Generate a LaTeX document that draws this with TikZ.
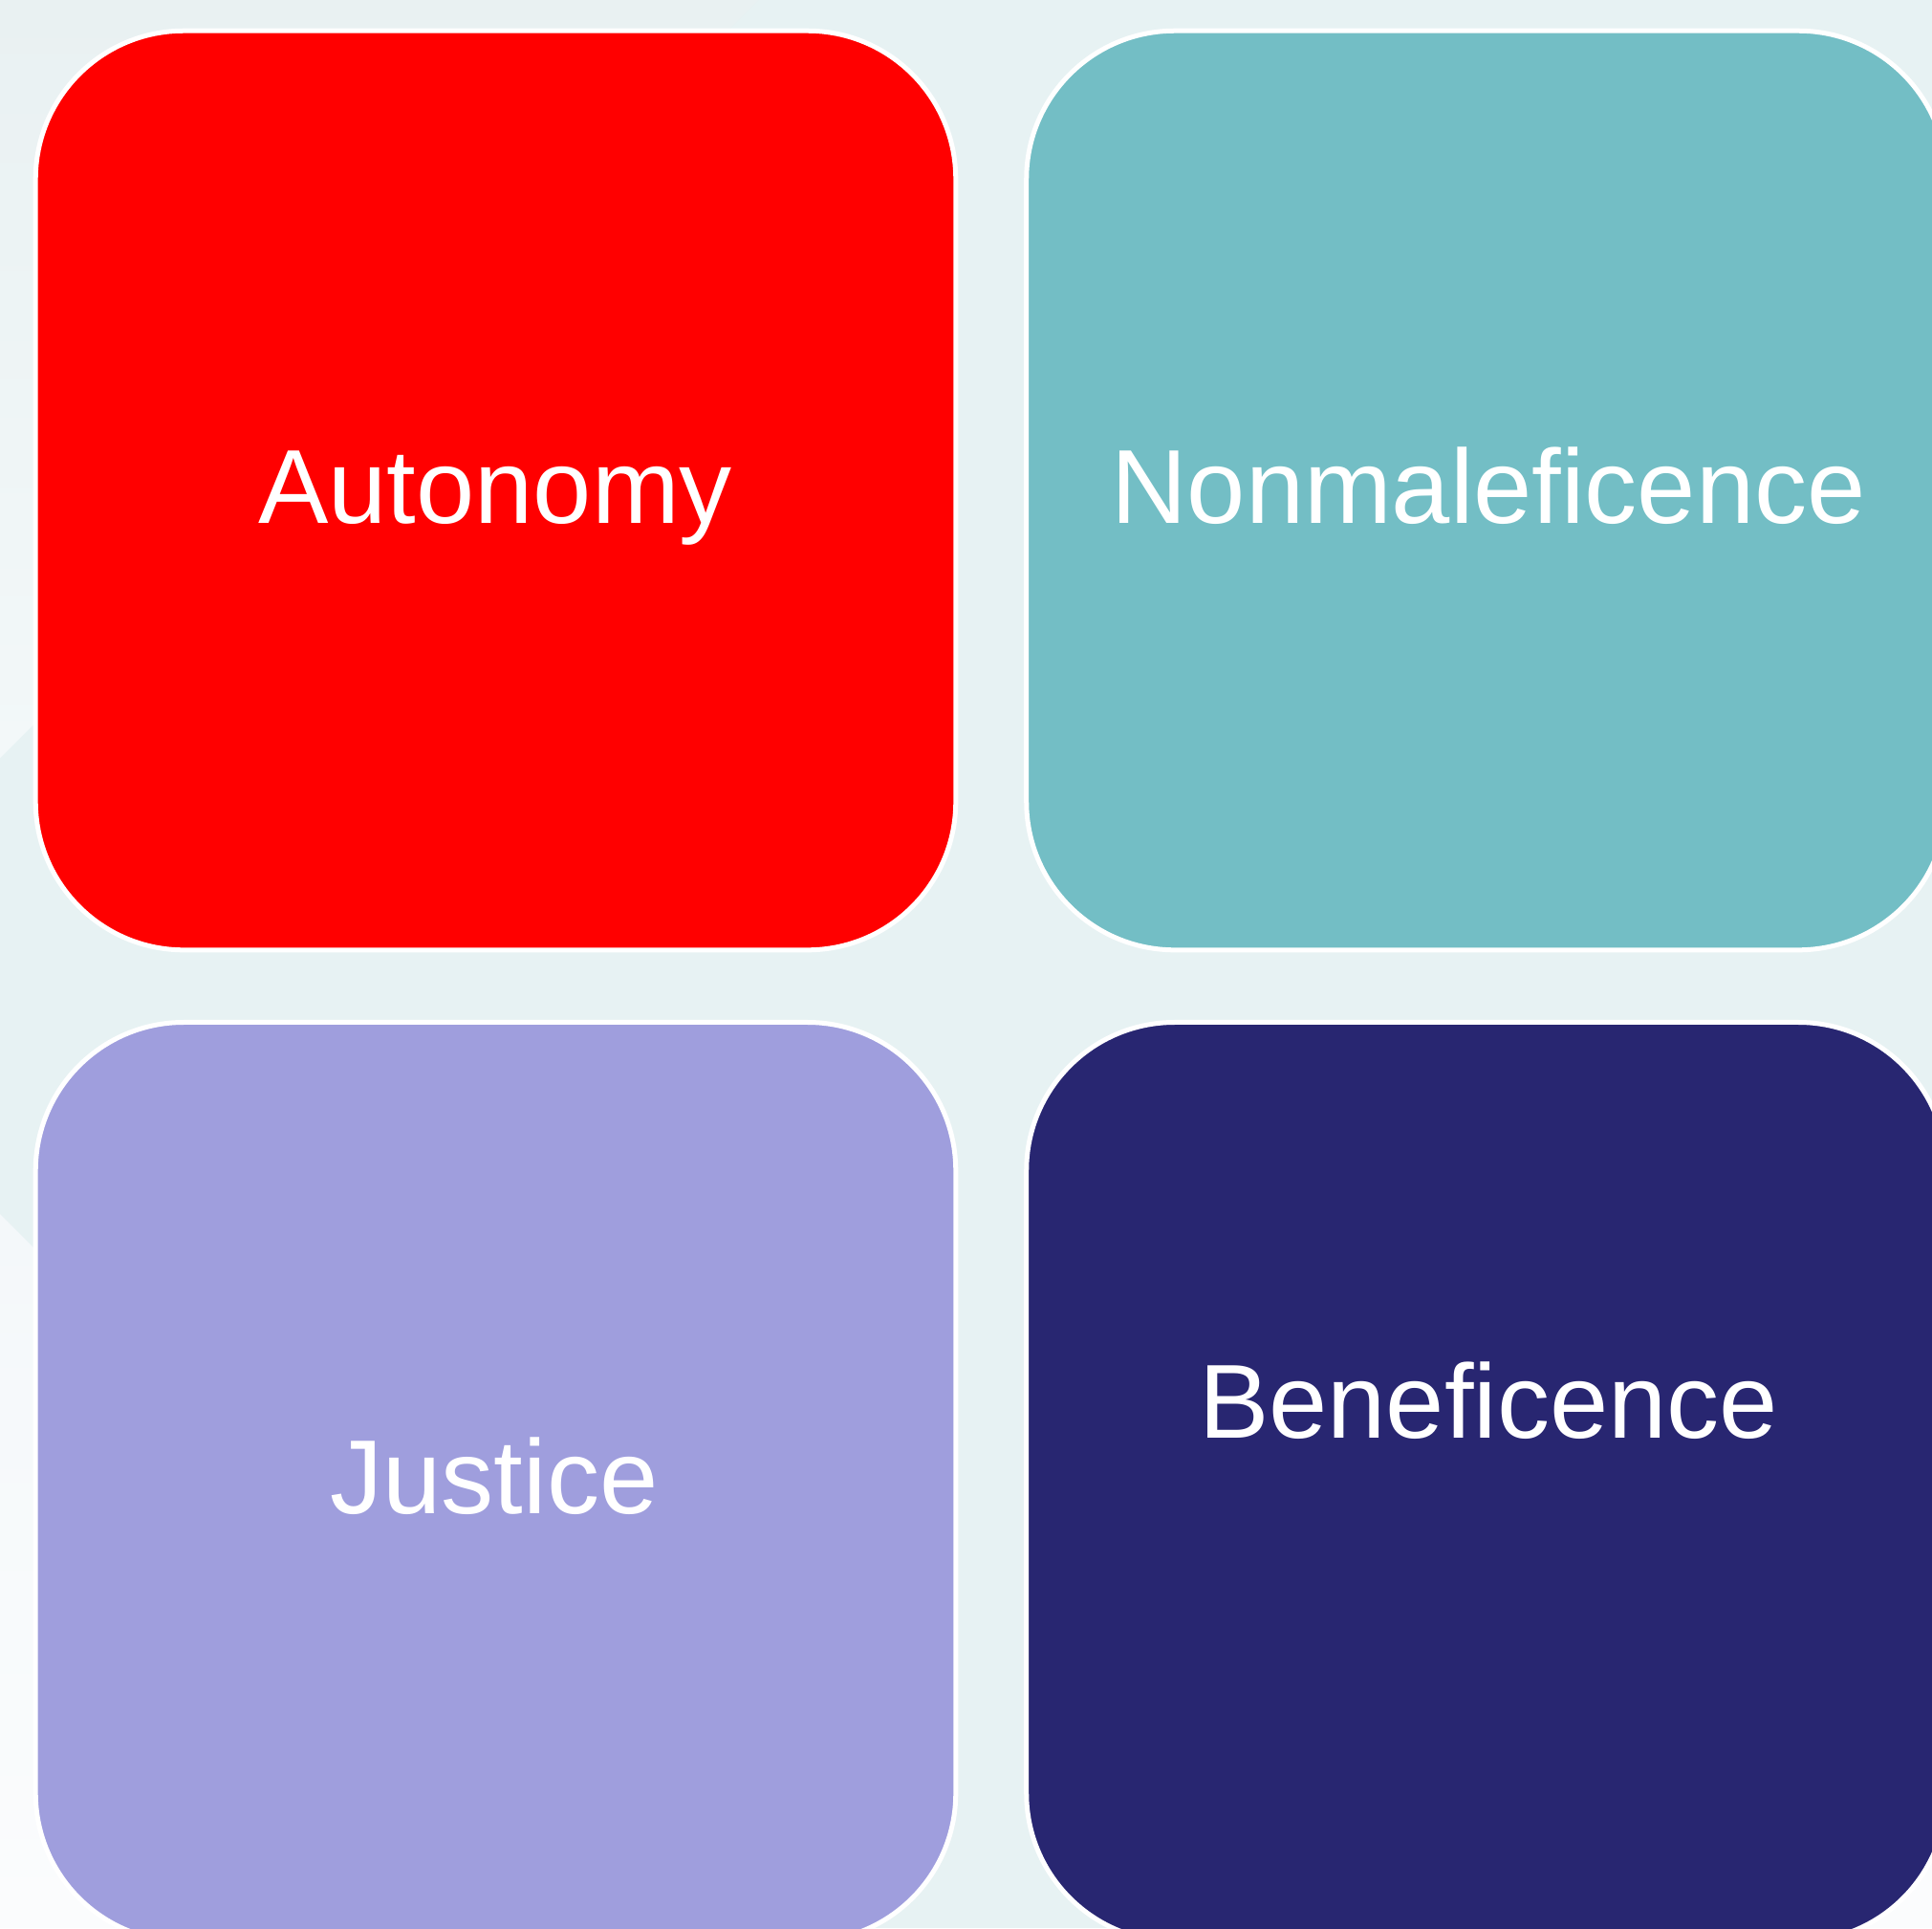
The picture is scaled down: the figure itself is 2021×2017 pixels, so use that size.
\documentclass[tikz,border=0pt]{standalone}
\usepackage{fontspec}
\setmainfont{Liberation Sans}
\definecolor{bgbase}{HTML}{E7F2F3}
\definecolor{bgtopA}{HTML}{E9F1F2}
\definecolor{bgtopB}{HTML}{F3F8F9}
\definecolor{bgbotA}{HTML}{F4F8FA}
\definecolor{bgbotB}{HTML}{FBFCFD}
\definecolor{autored}{HTML}{FF0000}
\definecolor{nonmal}{HTML}{73BEC5}
\definecolor{justc}{HTML}{9F9EDD}
\definecolor{benef}{HTML}{282671}
\begin{document}
\begin{tikzpicture}[x=0.01cm,y=-0.01cm,
  card/.style={rectangle, rounded corners=1.55cm, draw=white, line width=0.05cm,
    minimum width=9.62cm, minimum height=9.61cm, inner sep=0pt, outer sep=0pt},
  lbl/.style={text=white, anchor=base, inner sep=0pt,
    font=\fontsize{31.3}{37}\selectfont}]
\useasboundingbox (0,0) rectangle (2021,2017);
\clip (0,0) rectangle (2021,2017);
\fill[bgbase] (0,0) rectangle (2021,2017);
\shade[top color=bgtopA, bottom color=bgtopB] (0,0) -- (793,0) -- (0,793) -- cycle;
\shade[top color=bgbotA, bottom color=bgbotB] (0,1270) -- (747,2017) -- (0,2017) -- cycle;
\fill[bgbotB] (2021,1850) -- (2021,2017) -- (1854,2017) -- cycle;
\node[card, fill=autored] (A) at (518.5,513) {};
\node[card, fill=nonmal] (N) at (1555,513) {};
\node[card, fill=justc] (J) at (518.5,1550.25) {};
\node[card, fill=benef] (B) at (1555,1550.25) {};
\node[lbl] (tA) at (518,547) {Autonomy};
\node[lbl] (tN) at (1557,547) {Nonmaleficence};
\node[lbl] (tJ) at (517,1583) {Justice};
\node[lbl] (tB) at (1557,1504) {Beneficence};
\end{tikzpicture}
\end{document}
